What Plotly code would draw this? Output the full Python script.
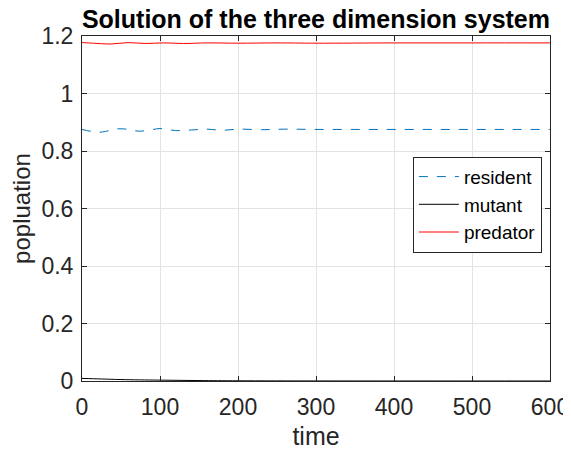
import plotly.graph_objects as go

# time samples
t_res = [0, 10, 20, 30, 45, 60, 72, 85, 100, 120, 140, 160, 180, 200, 230, 260, 300, 350, 400, 450, 500, 550, 600]
resident = [0.875, 0.869, 0.865, 0.868, 0.877, 0.875, 0.869, 0.872, 0.878, 0.871, 0.873, 0.876, 0.872, 0.876,
            0.874, 0.876, 0.875, 0.875, 0.875, 0.875, 0.875, 0.875, 0.875]

t_mut = [0, 25, 50, 100, 150, 200, 300, 400, 500, 600]
mutant = [0.009, 0.007, 0.005, 0.003, 0.0015, 0.0007, 0.0002, 0.0001, 0.00005, 0.0]

t_pred = [0, 15, 36, 59, 81, 105, 130, 160, 200, 250, 300, 400, 500, 600]
predator = [1.177, 1.175, 1.172, 1.177, 1.174, 1.176, 1.174, 1.176, 1.175, 1.176, 1.175, 1.176, 1.176, 1.176]

x_ticks = [0, 100, 200, 300, 400, 500, 600]
y_ticks = [0, 0.2, 0.4, 0.6, 0.8, 1.0, 1.2]
y_tick_labels = ["0", "0.2", "0.4", "0.6", "0.8", "1", "1.2"]

fig = go.Figure()
fig.add_trace(go.Scatter(x=t_res, y=resident, mode="lines", name="resident",
                         line=dict(color="#0072BD", width=1, dash="dash", shape="spline")))
fig.add_trace(go.Scatter(x=t_mut, y=mutant, mode="lines", name="mutant",
                         line=dict(color="black", width=1, shape="spline")))
fig.add_trace(go.Scatter(x=t_pred, y=predator, mode="lines", name="predator",
                         line=dict(color="#FF0000", width=1, shape="spline")))

font_family = "Liberation Sans, Arial, Helvetica, sans-serif"
axis_common = dict(showline=True, linecolor="#262626", linewidth=1, mirror="ticks",
                   ticks="inside", ticklen=5, tickcolor="#262626",
                   showgrid=True, gridcolor="#e3e3e3", gridwidth=1, zeroline=False,
                   automargin=False,
                   tickfont=dict(size=23, color="#262626", family=font_family))

fig.update_xaxes(range=[0, 600], tickvals=x_ticks, ticklabelstandoff=5,
                 title=dict(text="time", font=dict(size=25, color="#262626", family=font_family), standoff=14),
                 **axis_common)
fig.update_yaxes(range=[0, 1.2], tickvals=y_ticks, ticktext=y_tick_labels, ticklabelstandoff=3,
                 title=dict(text="popluation", font=dict(size=24, color="#262626", family=font_family), standoff=8),
                 **axis_common)

# the page body has an 8px margin, so the figure is sized to fit the 571x450 window
fig.update_layout(
    width=563, height=442,
    margin=dict(l=74, r=21, t=28, b=69, autoexpand=False),
    paper_bgcolor="white", plot_bgcolor="white",
    title=dict(text="<b>Solution of the three dimension system</b>", x=0.547, xanchor="center",
               xref="container", y=0.974, yanchor="middle", yref="container",
               font=dict(size=25, color="black", family=font_family)),
    legend=dict(x=0.707, y=0.650, xanchor="left", yanchor="top",
                bgcolor="white", bordercolor="#262626", borderwidth=1,
                font=dict(size=19, color="black", family=font_family),
                tracegroupgap=0, itemwidth=40),
    showlegend=True,
)

fig.write_html("out.html")
